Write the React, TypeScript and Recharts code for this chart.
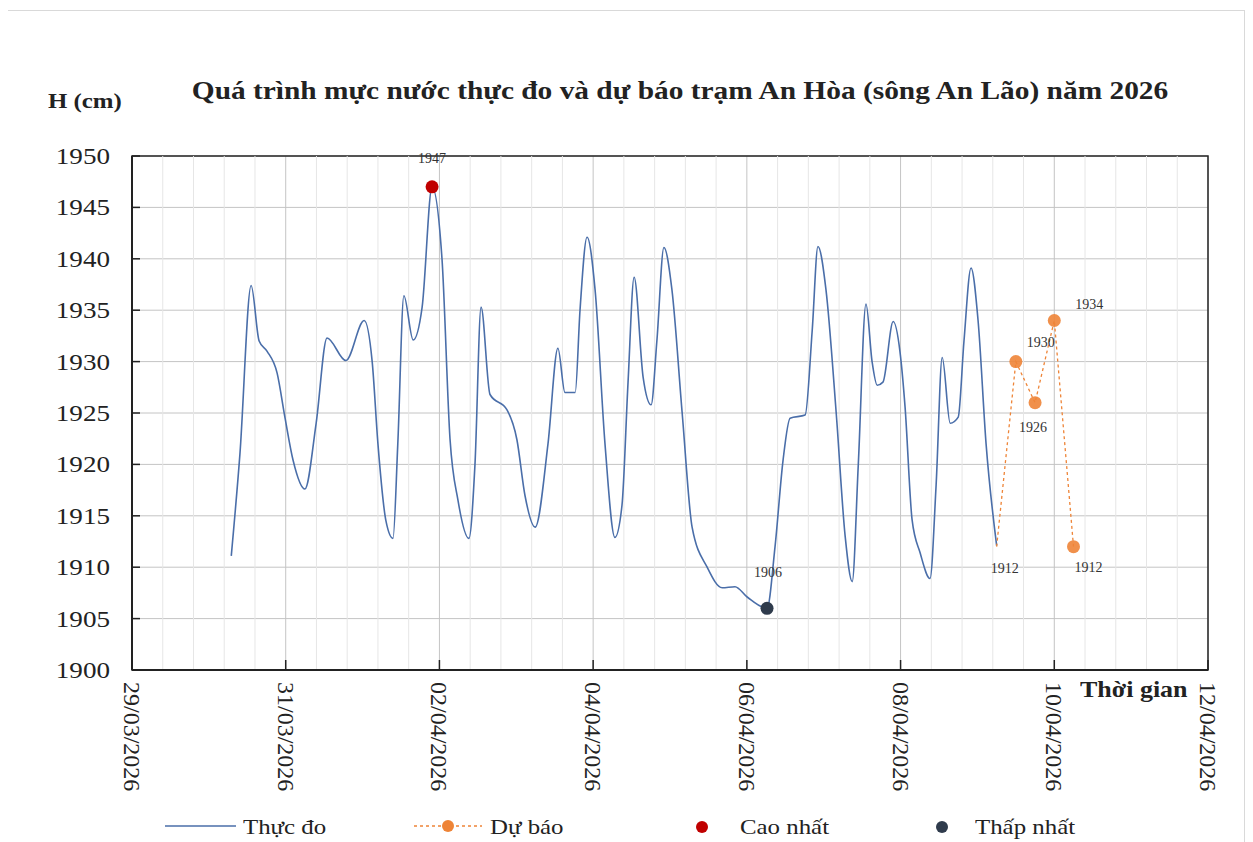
import React from "react";
import {
  ComposedChart,
  Line,
  XAxis,
  YAxis,
  CartesianGrid,
  ReferenceLine,
  ReferenceArea,
} from "recharts";

// hours since 29/03/2026 00:00
const measuredHours = [
  31, 33.7, 37.2, 39.7, 42.2, 45.3, 47.8, 50.3, 54, 57.5, 60.9, 66.8, 72.5, 75, 76.8, 79.3,
  81.5, 83, 84.9, 87.8, 90.6, 93.7, 96.8, 99.3, 101.8, 105.2, 107.1, 109, 111.8, 117.1,
  120.2, 122.7, 125.9, 129.9, 133, 135.2, 138.4, 139.9, 142.1, 144.6, 147.7, 150.8, 153,
  154.9, 156.8, 159.6, 162.1, 163.9, 166.1, 168.6, 171.8, 174.9, 179.6, 184.3, 188.3,
  192.1, 198.3, 200.8, 203.3, 205.5, 210.2, 212.4, 214.2, 216.7, 219.9, 222.7, 224.9,
  226.8, 229.2, 231.1, 232.7, 234.5, 237.7, 239.8, 241.4, 243.6, 246.1, 249.2, 251.1,
  253, 255.5, 258, 259.8, 262, 264.2, 266.7, 270,
];
const measuredLevel = [
  1911.1, 1921, 1937.4, 1932, 1931, 1928.9, 1924.5, 1920.4, 1917.6, 1924, 1932.3, 1930.1,
  1934, 1930, 1922, 1914.5, 1912.8, 1922, 1936.4, 1932.1, 1935.3, 1947, 1940, 1922.5,
  1916.5, 1912.8, 1920, 1935.3, 1926.8, 1925.3, 1922.4, 1917, 1913.9, 1922, 1931.3, 1927,
  1927, 1935, 1942.1, 1937, 1922, 1912.9, 1916, 1928, 1938.2, 1928.5, 1925.8, 1932,
  1941.1, 1937, 1925, 1913.9, 1910, 1908, 1908.1, 1907.1, 1906, 1912, 1920.4, 1924.5,
  1924.8, 1933, 1941.2, 1937, 1925, 1913, 1908.6, 1920, 1935.6, 1930, 1927.7, 1928,
  1933.9, 1931, 1925.6, 1914.6, 1911.4, 1908.9, 1918, 1930.4, 1924, 1924.6, 1932, 1939.1,
  1934, 1922, 1912.1,
];

const forecastHours = [270, 276, 282, 288, 294];
const forecastLevel = [1912, 1930, 1926, 1934, 1912];

const maxPoint = { h: 93.7, v: 1947 };
const minPoint = { h: 198.3, v: 1906 };

const yTicks = [1900, 1905, 1910, 1915, 1920, 1925, 1930, 1935, 1940, 1945, 1950];
const xTicks = [0, 48, 96, 144, 192, 240, 288, 336];
const xTickLabels = [
  "29/03/2026", "31/03/2026", "02/04/2026", "04/04/2026",
  "06/04/2026", "08/04/2026", "10/04/2026", "12/04/2026",
];
// Excel minor unit 0.4 day
const minorGrid = Array.from({ length: 36 }, (_, i) => +(i * 9.6).toFixed(1)).filter(
  (h) => h % 48 !== 0
);

const measuredData = measuredHours.map((h, i) => ({ h, v: measuredLevel[i] }));
const forecastData = forecastHours.map((h, i) => ({ h, v: forecastLevel[i] }));

// label offsets for forecast points (dx, dy)
const forecastLabelOffsets = [
  [8, 22], [25, -19], [-2, 25], [35, -16], [15, 21],
];

const SERIF = "'Liberation Serif', 'Times New Roman', serif";
const BLUE = "#4a6ea9";
const ORANGE = "#ee8437";
const RED = "#c00000";
const DARK = "#2f3b4c";
const STRETCH = 1.13;

const YTick = (props: any) => {
  const { x, y, payload } = props;
  return (
    <g>
      <line x1={x} x2={x + 8} y1={y} y2={y} stroke="#222" strokeWidth={1.5} />
      <text
        transform={`translate(${x - 22},${y}) scale(${STRETCH},1)`}
        textAnchor="end"
        dominantBaseline="central"
        fontFamily={SERIF}
        fontSize={24}
        fill="#222"
      >
        {payload.value}
      </text>
    </g>
  );
};

const XTick = (props: any) => {
  const { x, y, index } = props;
  return (
    <g>
      <line x1={x} x2={x} y1={y} y2={y - 10} stroke="#222" strokeWidth={1.5} />
      <text
        transform={`translate(${x},${y + 12}) rotate(90)`}
        textAnchor="start"
        dominantBaseline="central"
        fontFamily={SERIF}
        fontSize={24}
        fill="#222"
      >
        {xTickLabels[index] ?? ""}
      </text>
    </g>
  );
};

const smallLabel = (dx: number, dy: number) => (props: any) => {
  const { x, y, value } = props;
  return (
    <text x={x + dx} y={y + dy} textAnchor="middle" dominantBaseline="central" fontFamily={SERIF} fontSize={14} fill="#333">
      {value}
    </text>
  );
};

const forecastLabel = (props: any) => {
  const { x, y, value, index } = props;
  const [dx, dy] = forecastLabelOffsets[index] || [0, 0];
  return (
    <text key={`fl-${index}`} x={x + dx} y={y + dy} textAnchor="middle" dominantBaseline="central" fontFamily={SERIF} fontSize={14} fill="#333">
      {value}
    </text>
  );
};

const forecastDot = (props: any) => {
  const { cx, cy, index } = props;
  if (index === 0) return <g key={`fd-${index}`} />;
  return <circle key={`fd-${index}`} cx={cx} cy={cy} r={6.5} fill={ORANGE} fillOpacity={0.9} />;
};

const textBase: React.CSSProperties = {
  position: "absolute",
  fontFamily: SERIF,
  color: "#222",
  whiteSpace: "nowrap",
  transformOrigin: "left center",
  transform: `scaleX(${STRETCH})`,
  lineHeight: 1,
};

function LegendRow() {
  const item: React.CSSProperties = { ...textBase, top: 816, fontSize: 22 };
  return (
    <>
      <svg style={{ position: "absolute", left: 0, top: 800, width: 1253, height: 42 }}>
        <line x1={165} x2={236} y1={26} y2={26} stroke={BLUE} strokeWidth={1.5} />
        <line x1={414} x2={482} y1={26} y2={26} stroke={ORANGE} strokeWidth={1.5} strokeDasharray="3 3" />
        <circle cx={448} cy={26} r={6} fill={ORANGE} />
        <circle cx={702} cy={27} r={6} fill={RED} />
        <circle cx={942} cy={27} r={6} fill={DARK} />
      </svg>
      <div style={{ ...item, left: 243 }}>Thực đo</div>
      <div style={{ ...item, left: 490 }}>Dự báo</div>
      <div style={{ ...item, left: 740 }}>Cao nhất</div>
      <div style={{ ...item, left: 975 }}>Thấp nhất</div>
    </>
  );
}

export default function App() {
  return (
    <div style={{ position: "relative", width: 1253, height: 842, margin: "-8px 0 0 -8px", background: "#fff", overflow: "hidden" }}>
      <div style={{ position: "absolute", left: 5, top: 10, width: 1238, height: 840, border: "1px solid #d9d9d9" }} />
      <div
        style={{
          ...textBase,
          left: 680,
          top: 78,
          transformOrigin: "center center",
          transform: `translateX(-50%) scaleX(${STRETCH})`,
          fontWeight: "bold",
          fontSize: 26,
        }}
      >
        Quá trình mực nước thực đo và dự báo trạm An Hòa (sông An Lão) năm 2026
      </div>
      <div style={{ ...textBase, left: 48, top: 90, fontWeight: "bold", fontSize: 22 }}>H (cm)</div>
      <div style={{ ...textBase, left: 1080, top: 678, fontWeight: "bold", fontSize: 23 }}>Thời gian</div>
      <div style={{ position: "absolute", left: 0, top: 0 }}>
        <ComposedChart width={1253} height={842} margin={{ top: 156, right: 45, bottom: 0, left: 0 }}>
          <CartesianGrid stroke="#c4c4c4" strokeWidth={1} />
          {minorGrid.map((h) => (
            <ReferenceLine key={`mg-${h}`} x={h} stroke="#e6e6e6" strokeWidth={1} />
          ))}
          <ReferenceArea x1={0} x2={336} y1={1900} y2={1950} fill="none" stroke="#262626" strokeWidth={1.5} />
          <XAxis
            dataKey="h"
            type="number"
            domain={[0, 336]}
            ticks={xTicks}
            interval={0}
            height={172}
            tickSize={0}
            tickMargin={0}
            tick={<XTick />}
            axisLine={{ stroke: "#222", strokeWidth: 2 }}
            allowDuplicatedCategory={false}
          />
          <YAxis
            type="number"
            domain={[1900, 1950]}
            ticks={yTicks}
            interval={0}
            width={132}
            tickSize={0}
            tickMargin={0}
            tick={<YTick />}
            axisLine={{ stroke: "#222", strokeWidth: 2 }}
          />
          <Line
            data={measuredData}
            dataKey="v"
            type="monotone"
            stroke={BLUE}
            strokeWidth={1.6}
            dot={false}
            isAnimationActive={false}
          />
          <Line
            data={forecastData}
            dataKey="v"
            type="linear"
            stroke={ORANGE}
            strokeWidth={1.3}
            strokeDasharray="3 3"
            dot={forecastDot}
            label={forecastLabel}
            isAnimationActive={false}
          />
          <Line
            data={[maxPoint]}
            dataKey="v"
            stroke="none"
            dot={{ r: 6.5, fill: RED, stroke: "none" }}
            label={smallLabel(0, -28)}
            isAnimationActive={false}
          />
          <Line
            data={[minPoint]}
            dataKey="v"
            stroke="none"
            dot={{ r: 6.5, fill: DARK, stroke: "none" }}
            label={smallLabel(1, -36)}
            isAnimationActive={false}
          />
        </ComposedChart>
      </div>
      <LegendRow />
    </div>
  );
}
